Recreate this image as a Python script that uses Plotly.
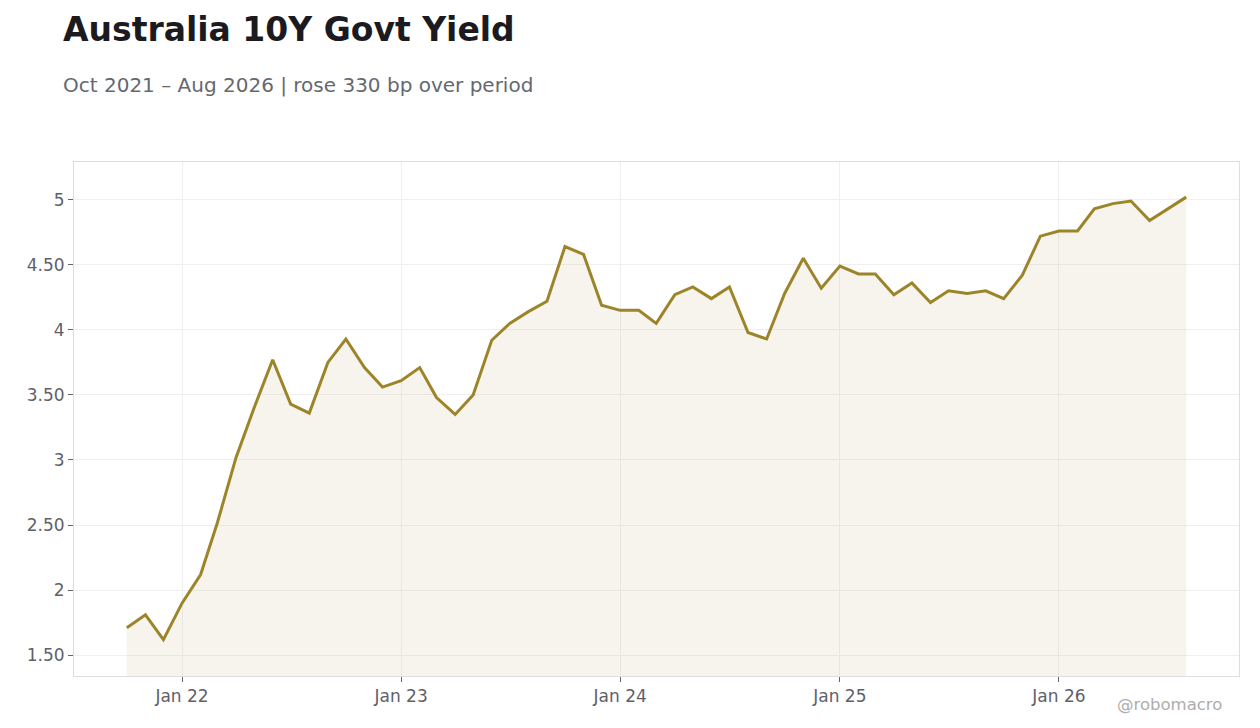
import pandas as pd
import plotly.graph_objects as go

# monthly readings, Oct 2021 .. Aug 2026
months = pd.date_range("2021-10-01", "2026-08-01", freq="MS")
yields = [
    1.71, 1.81, 1.62,                                                  # 2021 Q4
    1.90, 2.12, 2.52, 3.02, 3.40, 3.77, 3.43, 3.36, 3.75, 3.93, 3.71, 3.56,  # 2022
    3.61, 3.71, 3.48, 3.35, 3.50, 3.92, 4.05, 4.14, 4.22, 4.64, 4.58, 4.19,  # 2023
    4.15, 4.15, 4.05, 4.27, 4.33, 4.24, 4.33, 3.98, 3.93, 4.28, 4.55, 4.32,  # 2024
    4.49, 4.43, 4.43, 4.27, 4.36, 4.21, 4.30, 4.28, 4.30, 4.24, 4.42, 4.72,  # 2025
    4.76, 4.76, 4.93, 4.97, 4.99, 4.84, 4.93, 5.02,                    # 2026
]

y_ticks = [1.5, 2, 2.5, 3, 3.5, 4, 4.5, 5]
y_labels = ["1.50", "2", "2.50", "3", "3.50", "4", "4.50", "5"]
x_ticks = ["2022-01-01", "2023-01-01", "2024-01-01", "2025-01-01", "2026-01-01"]
x_labels = ["Jan 22", "Jan 23", "Jan 24", "Jan 25", "Jan 26"]

title = "Australia 10Y Govt Yield"
subtitle = "Oct 2021 \u2013 Aug 2026 | rose 330 bp over period"

font = "DejaVu Sans"
line_col = "#9c8529"
grid_col = "#efefef"
tick_col = "#5f6069"

# page sits 8px in from the window edge, so work in figure coords
W, H = 1260, 728
L, R, T, B = 66, 29, 154, 60
pw, ph = W - L - R, H - T - B

fig = go.Figure()
fig.add_trace(go.Scatter(
    x=months, y=yields, mode="lines",
    line=dict(color=line_col, width=3),
    fill="tozeroy", fillcolor="rgba(190,170,120,0.13)",
    hoverinfo="x+y", showlegend=False,
))

fig.update_layout(
    width=W, height=H,
    margin=dict(l=L, r=R, t=T, b=B),
    paper_bgcolor="white", plot_bgcolor="white",
    font=dict(family=font, color=tick_col, size=17),
    title=dict(text="<b>" + title + "</b>", xref="container", yref="container",
               x=55 / W, xanchor="left", y=1 - 21 / H, yanchor="middle",
               font=dict(family=font, size=33, color="#1b1b1f")),
    annotations=[
        dict(text=subtitle, xref="paper", yref="paper",
             x=(53 - L) / pw, xanchor="left", y=(T + ph - 77) / ph, yanchor="middle",
             showarrow=False, font=dict(family=font, size=20, color="#666870")),
        dict(text="@robomacro", xref="paper", yref="paper",
             x=(1216 - L) / pw, xanchor="right", y=(T + ph - 696) / ph, yanchor="middle",
             showarrow=False, font=dict(family=font, size=16.5, color="#adadad")),
    ],
)

fig.update_xaxes(
    range=["2021-07-05", "2026-10-28"],
    tickvals=x_ticks, ticktext=x_labels,
    showgrid=True, gridcolor=grid_col, gridwidth=1,
    showline=True, linecolor="#dddddd", linewidth=1, mirror=True,
    ticks="outside", ticklen=5, tickcolor="#666666",
    zeroline=False,
)
fig.update_yaxes(
    range=[1.34, 5.29],
    tickvals=y_ticks, ticktext=y_labels,
    showgrid=True, gridcolor=grid_col, gridwidth=1,
    showline=True, linecolor="#dddddd", linewidth=1, mirror=True,
    ticks="outside", ticklen=5, tickcolor="#666666",
    zeroline=False,
)

fig.write_html("out.html")
